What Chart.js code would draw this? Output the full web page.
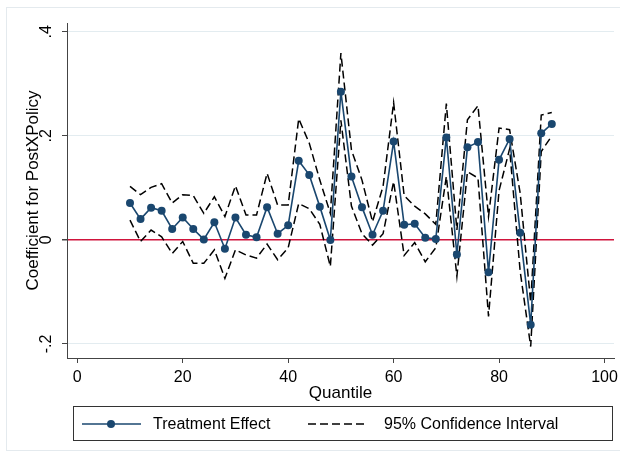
<!DOCTYPE html>
<html>
<head>
<meta charset="utf-8">
<script src="https://cdn.jsdelivr.net/npm/chart.js@4.4.1/dist/chart.umd.min.js"></script>
<style>
  html, body { margin: 0; padding: 0; background: #fff; }
  #wrap { width: 620px; height: 455px; position: relative; }
</style>
</head>
<body>
<div id="wrap"><canvas id="qte-chart"></canvas></div>
<script>
// Quantile treatment effects of PostXPolicy with 95% CI (Stata-style look).
var QUANTILES = [10, 12, 14, 16, 18, 20, 22, 24, 26, 28, 30, 32, 34, 36, 38, 40, 42, 44, 46, 48,
                 50, 52, 54, 56, 58, 60, 62, 64, 66, 68, 70, 72, 74, 76, 78, 80, 82, 84, 86, 88, 90];
var EFFECT = [0.071, 0.040, 0.062, 0.056, 0.021, 0.043, 0.021, 0.001, 0.034, -0.017,
              0.043, 0.010, 0.005, 0.063, 0.012, 0.028, 0.152, 0.125, 0.064, 0.000,
              0.285, 0.122, 0.063, 0.010, 0.056, 0.189, 0.029, 0.031, 0.004, 0.002,
              0.197, -0.028, 0.178, 0.188, -0.062, 0.154, 0.194, 0.014, -0.163, 0.205, 0.223];
var CI_UPPER = [0.103, 0.087, 0.101, 0.108, 0.071, 0.087, 0.085, 0.051, 0.083, 0.045,
                0.104, 0.048, 0.048, 0.128, 0.067, 0.067, 0.233, 0.186, 0.115, 0.051,
                0.359, 0.173, 0.115, 0.035, 0.103, 0.264, 0.085, 0.065, 0.050, 0.030,
                0.262, 0.019, 0.231, 0.258, 0.045, 0.215, 0.212, 0.090, -0.120, 0.240, 0.245];
var CI_LOWER = [0.038, -0.003, 0.019, 0.006, -0.026, -0.003, -0.045, -0.045, -0.019, -0.074,
                -0.019, -0.029, -0.035, -0.008, -0.038, -0.015, 0.070, 0.060, 0.030, -0.051,
                0.230, 0.065, 0.012, -0.010, 0.012, 0.112, -0.030, -0.005, -0.042, -0.015,
                0.122, -0.070, 0.131, 0.119, -0.147, 0.095, 0.175, -0.060, -0.205, 0.170, 0.200];
var X_TICKS = [0, 20, 40, 60, 80, 100];
var Y_TICKS = [-0.2, 0, 0.2, 0.4];

var NAVY = '#1a476f';
var RED = '#d0143c';
var FONT = '"Liberation Sans", Arial, sans-serif';

function pts(ys) {
  return QUANTILES.map(function(q, i) { return { x: q, y: ys[i] }; });
}

// Stata drops the leading zero: .4, .2, 0, -.2
function stataNum(v) {
  if (Math.abs(v) < 1e-9) return '0';
  var s = String(Math.round(v * 10) / 10);
  return s.replace(/^(-?)0\./, '$1.');
}

var framePlugin = {
  id: 'frame',
  beforeDraw: function(chart) {
    var ctx = chart.ctx;
    ctx.save();
    ctx.fillStyle = '#fff';
    ctx.fillRect(0, 0, chart.width, chart.height);
    ctx.strokeStyle = '#e4eaee';
    ctx.lineWidth = 1;
    ctx.strokeRect(6.5, 7.5, 660, 443);
    ctx.restore();
  },
  afterDraw: function(chart) {
    var ctx = chart.ctx;
    var ys = chart.scales.y;
    ctx.save();
    // rotated y tick labels
    ctx.font = '16px ' + FONT;
    ctx.fillStyle = '#000';
    ctx.textAlign = 'center';
    ctx.textBaseline = 'middle';
    ys.ticks.forEach(function(t) {
      var py = ys.getPixelForValue(t.value);
      ctx.save();
      ctx.translate(47, py);
      ctx.rotate(-Math.PI / 2);
      ctx.fillText(stataNum(t.value), 0, 0);
      ctx.restore();
    });

    // legend box
    var ly = 424;
    ctx.strokeStyle = '#333';
    ctx.lineWidth = 1;
    ctx.strokeRect(73.5, 406.5, 539, 34);

    ctx.strokeStyle = NAVY;
    ctx.lineWidth = 1.6;
    ctx.beginPath();
    ctx.moveTo(82, ly); ctx.lineTo(141, ly);
    ctx.stroke();
    ctx.fillStyle = NAVY;
    ctx.beginPath();
    ctx.arc(111, ly, 4, 0, Math.PI * 2);
    ctx.fill();

    ctx.strokeStyle = '#000';
    ctx.lineWidth = 1.5;
    ctx.setLineDash([8, 4]);
    ctx.beginPath();
    ctx.moveTo(308, ly); ctx.lineTo(368, ly);
    ctx.stroke();
    ctx.setLineDash([]);

    ctx.fillStyle = '#000';
    ctx.textAlign = 'left';
    ctx.fillText('Treatment Effect', 153, ly + 1);
    ctx.fillText('95% Confidence Interval', 384, ly + 1);
    ctx.restore();
  }
};

var ciStyle = {
  borderColor: '#000',
  borderWidth: 1.5,
  borderDash: [8, 4],
  pointRadius: 0,
  tension: 0,
  fill: false
};

new Chart(document.getElementById('qte-chart'), {
  type: 'line',
  data: {
    datasets: [
      Object.assign({ label: 'Upper 95% CI', data: pts(CI_UPPER), order: 2 }, ciStyle),
      Object.assign({ label: 'Lower 95% CI', data: pts(CI_LOWER), order: 2 }, ciStyle),
      {
        label: 'Treatment Effect',
        data: pts(EFFECT),
        borderColor: NAVY,
        backgroundColor: NAVY,
        borderWidth: 1.6,
        pointRadius: 4,
        pointBackgroundColor: NAVY,
        pointBorderColor: NAVY,
        pointBorderWidth: 0,
        tension: 0,
        order: 1
      }
    ]
  },
  options: {
    responsive: true,
    maintainAspectRatio: false,
    animation: false,
    layout: { padding: { top: 23, right: 6, bottom: 49, left: 0 } },
    plugins: {
      legend: { display: false },
      tooltip: { enabled: false }
    },
    scales: {
      x: {
        type: 'linear',
        min: -1.95,
        max: 101.8,
        afterBuildTicks: function(s) { s.ticks = X_TICKS.map(function(v) { return { value: v }; }); },
        afterFit: function(s) { s.height = 48; s.paddingLeft = 0; s.paddingRight = 0; },
        grid: { drawOnChartArea: false, tickLength: 5, tickColor: '#444' },
        border: { display: true, color: '#444', width: 1 },
        ticks: { font: { size: 16, family: FONT }, color: '#000', padding: 5, maxRotation: 0 },
        title: {
          display: true, text: 'Quantile', color: '#000',
          font: { size: 17, family: FONT }, padding: { top: 0, bottom: 2 }
        }
      },
      y: {
        type: 'linear',
        min: -0.227,
        max: 0.417,
        afterBuildTicks: function(s) { s.ticks = Y_TICKS.map(function(v) { return { value: v }; }); },
        afterFit: function(s) { s.width = 67; s.paddingTop = 0; s.paddingBottom = 0; },
        grid: {
          tickLength: 5,
          tickColor: '#444',
          color: function(c) { return c.tick && Math.abs(c.tick.value) < 1e-9 ? RED : '#e3ecf0'; },
          lineWidth: function(c) { return c.tick && Math.abs(c.tick.value) < 1e-9 ? 1.5 : 1; }
        },
        border: { display: true, color: '#444', width: 1 },
        ticks: { display: false },
        title: {
          display: true, text: 'Coefficient for PostXPolicy', color: '#000',
          font: { size: 17, family: FONT }, padding: { top: 23, bottom: 0 }
        }
      }
    }
  },
  plugins: [framePlugin]
});
</script>
</body>
</html>
